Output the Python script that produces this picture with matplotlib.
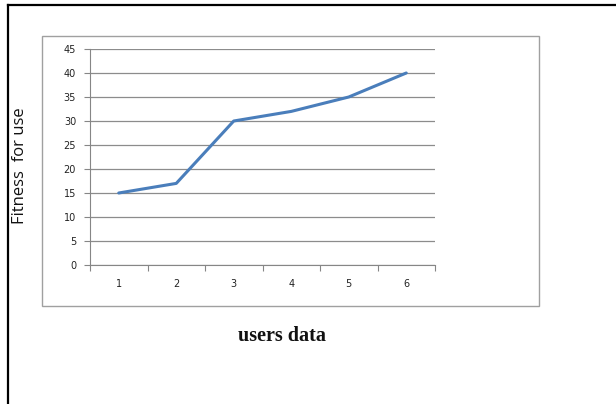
import numpy as np
import matplotlib.pyplot as plt
from matplotlib.patches import Rectangle
from matplotlib.lines import Line2D

# data
users = [1, 2, 3, 4, 5, 6]
fitness = [15, 17, 30, 32, 35, 40]
y_ticks = [0, 5, 10, 15, 20, 25, 30, 35, 40, 45]

W, H = 616, 404


def fx(px):
    return px / W


def fy(py):
    return 1 - py / H


fig = plt.figure(figsize=(W / 100, H / 100), dpi=100)
fig.patch.set_facecolor('white')

# outer black frame (only top and left visible)
fig.add_artist(Line2D([fx(8), 1], [fy(5), fy(5)], color='black', lw=1.6,
                      transform=fig.transFigure))
fig.add_artist(Line2D([fx(8), fx(8)], [fy(5), 0], color='black', lw=1.6,
                      transform=fig.transFigure))

# chart area box
fig.add_artist(Rectangle((fx(42), fy(306)), fx(539) - fx(42), fy(36) - fy(306),
                         fill=False, edgecolor='#a0a0a0', lw=1.0,
                         transform=fig.transFigure))

ax = fig.add_axes([fx(90), fy(265), fx(435) - fx(90), fy(49) - fy(265)])
ax.plot(users, fitness, color='#4a7ebb', lw=2.2, solid_capstyle='round')

ax.set_xlim(0.5, 6.5)
ax.set_ylim(0, 45)
ax.set_yticks(y_ticks)
ax.set_yticklabels([str(v) for v in y_ticks])
ax.set_xticks(np.arange(0.5, 7.0, 1.0))
ax.set_xticklabels([])
ax.set_xticks(users, minor=True)
ax.set_xticklabels([str(u) for u in users], minor=True)

ax.tick_params(axis='y', direction='out', length=4, width=0.8, color='#868686',
               labelsize=7, labelcolor='#222222', pad=6)
ax.tick_params(axis='x', which='major', direction='out', length=4, width=0.8,
               color='#868686')
ax.tick_params(axis='x', which='minor', length=0, labelsize=7,
               labelcolor='#222222', pad=10)

ax.grid(axis='y', color='#8c8c8c', lw=0.9)
ax.set_axisbelow(True)
for s in ['top', 'right']:
    ax.spines[s].set_visible(False)
for s in ['left', 'bottom']:
    ax.spines[s].set_color('#868686')
    ax.spines[s].set_linewidth(0.8)

fig.text(fx(20), fy(166), 'Fitness  for use', rotation=90, ha='center',
         va='center', fontsize=12, family='Open Sans', color='#111111')
fig.text(fx(282), fy(336), 'users data', ha='center', va='center',
         fontsize=14.5, family='Liberation Serif', fontweight='bold',
         color='#111111')

plt.savefig('out.png', dpi=100)
plt.close()
